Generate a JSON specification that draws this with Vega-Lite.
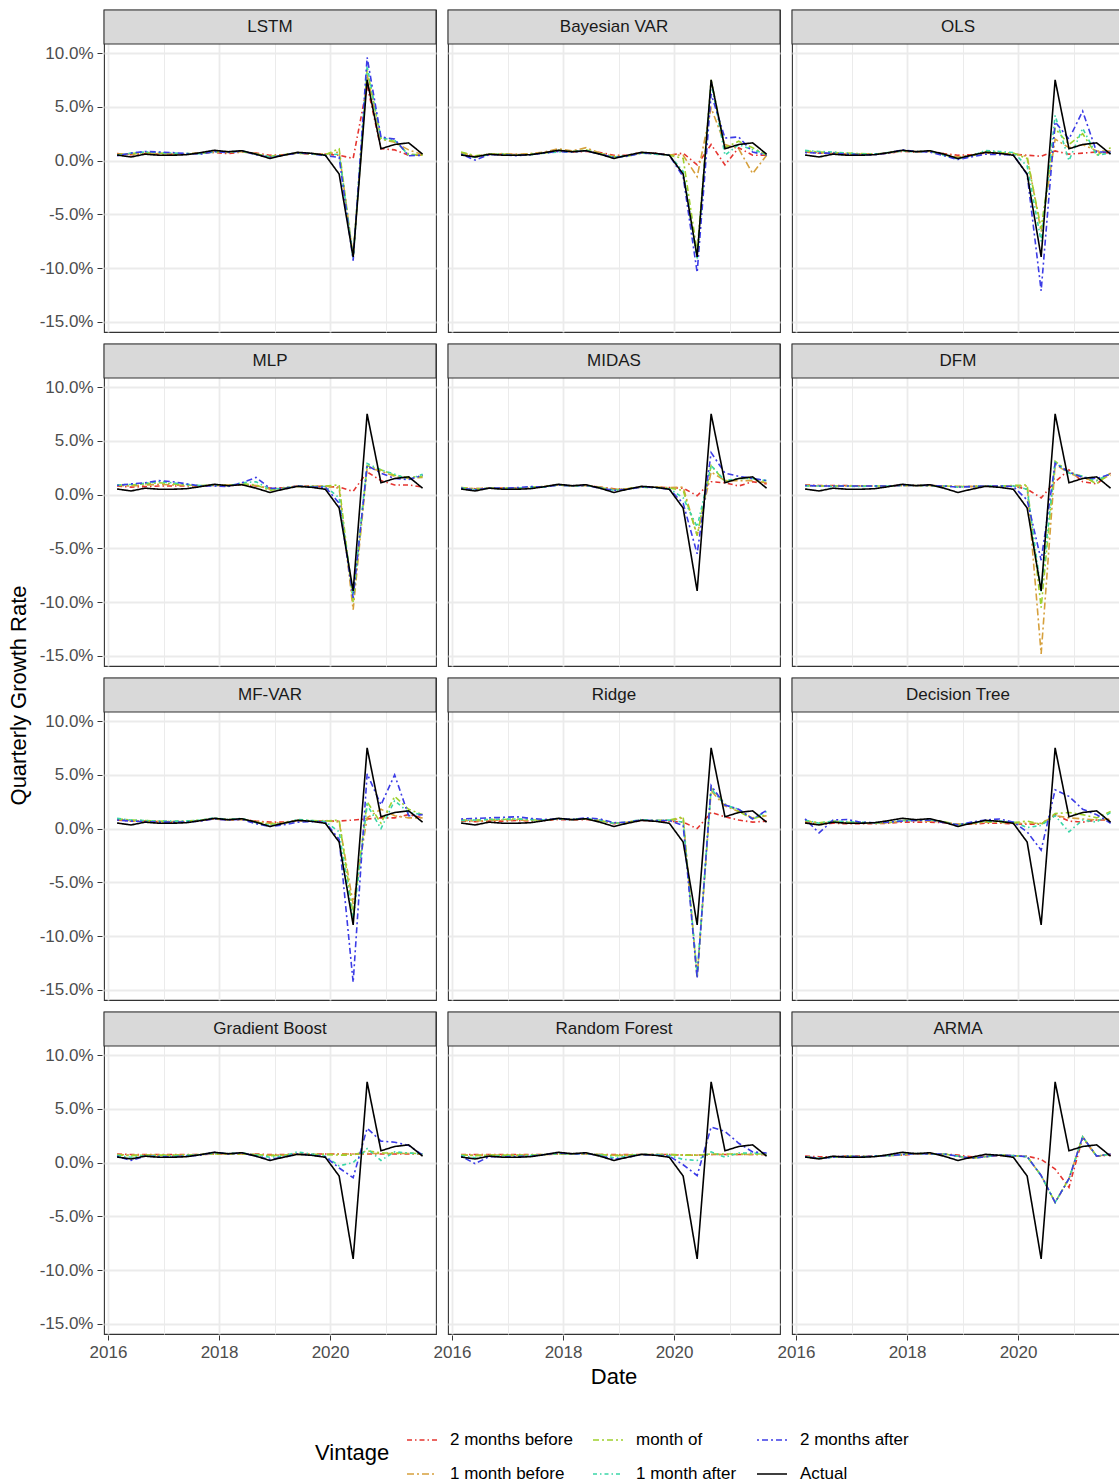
{
"$schema": "https://vega.github.io/schema/vega-lite/v6.json",
"padding": {"left": 8, "top": 8, "right": 0, "bottom": 5},
"background": "white",
"title": {"text": "Quarterly Growth Rate", "orient": "left", "anchor": "middle", "frame": "bounds", "fontSize": 22, "fontWeight": "normal", "color": "#000000", "offset": 8, "font": "Liberation Sans", "dx": 50},
"data": {"values": [
{"m":"LSTM","d":"2016-03-01","b2":0.65,"b1":0.6,"m0":0.55,"a1":0.5,"a2":0.45,"ac":0.52},
{"m":"LSTM","d":"2016-06-01","b2":0.55,"b1":0.6,"m0":0.65,"a1":0.7,"a2":0.7,"ac":0.34},
{"m":"LSTM","d":"2016-09-01","b2":0.65,"b1":0.7,"m0":0.75,"a1":0.8,"a2":0.85,"ac":0.6},
{"m":"LSTM","d":"2016-12-01","b2":0.6,"b1":0.65,"m0":0.7,"a1":0.75,"a2":0.8,"ac":0.5},
{"m":"LSTM","d":"2017-03-01","b2":0.6,"b1":0.6,"m0":0.65,"a1":0.7,"a2":0.75,"ac":0.5},
{"m":"LSTM","d":"2017-06-01","b2":0.6,"b1":0.65,"m0":0.6,"a1":0.65,"a2":0.65,"ac":0.55},
{"m":"LSTM","d":"2017-09-01","b2":0.7,"b1":0.7,"m0":0.65,"a1":0.65,"a2":0.6,"ac":0.74},
{"m":"LSTM","d":"2017-12-01","b2":0.75,"b1":0.8,"m0":0.85,"a1":0.8,"a2":0.85,"ac":0.96},
{"m":"LSTM","d":"2018-03-01","b2":0.65,"b1":0.75,"m0":0.8,"a1":0.8,"a2":0.75,"ac":0.83},
{"m":"LSTM","d":"2018-06-01","b2":0.8,"b1":0.85,"m0":0.85,"a1":0.9,"a2":0.9,"ac":0.92},
{"m":"LSTM","d":"2018-09-01","b2":0.7,"b1":0.65,"m0":0.6,"a1":0.6,"a2":0.55,"ac":0.6},
{"m":"LSTM","d":"2018-12-01","b2":0.5,"b1":0.35,"m0":0.4,"a1":0.35,"a2":0.3,"ac":0.2},
{"m":"LSTM","d":"2019-03-01","b2":0.55,"b1":0.5,"m0":0.55,"a1":0.5,"a2":0.5,"ac":0.5},
{"m":"LSTM","d":"2019-06-01","b2":0.7,"b1":0.7,"m0":0.7,"a1":0.75,"a2":0.7,"ac":0.77},
{"m":"LSTM","d":"2019-09-01","b2":0.6,"b1":0.65,"m0":0.6,"a1":0.65,"a2":0.65,"ac":0.68},
{"m":"LSTM","d":"2019-12-01","b2":0.6,"b1":0.6,"m0":0.55,"a1":0.5,"a2":0.45,"ac":0.5},
{"m":"LSTM","d":"2020-03-01","b2":0.5,"b1":0.8,"m0":1.1,"a1":0.6,"a2":0.3,"ac":-1.25},
{"m":"LSTM","d":"2020-06-01","b2":0.2,"b1":-8.9,"m0":-9.0,"a1":-9.1,"a2":-9.3,"ac":-8.95},
{"m":"LSTM","d":"2020-09-01","b2":7.0,"b1":8.0,"m0":8.5,"a1":8.8,"a2":9.6,"ac":7.5},
{"m":"LSTM","d":"2020-12-01","b2":1.1,"b1":2.0,"m0":2.0,"a1":2.1,"a2":2.2,"ac":1.1},
{"m":"LSTM","d":"2021-03-01","b2":1.0,"b1":1.7,"m0":1.8,"a1":1.9,"a2":2.0,"ac":1.5},
{"m":"LSTM","d":"2021-06-01","b2":0.5,"b1":1.0,"m0":0.6,"a1":0.5,"a2":0.45,"ac":1.65},
{"m":"LSTM","d":"2021-09-01","b2":0.5,"b1":0.55,"m0":0.5,"a1":0.5,"a2":0.5,"ac":0.6},
{"m":"Bayesian VAR","d":"2016-03-01","b2":0.7,"b1":0.75,"m0":0.8,"a1":0.6,"a2":0.6,"ac":0.52},
{"m":"Bayesian VAR","d":"2016-06-01","b2":0.35,"b1":0.4,"m0":0.45,"a1":0.3,"a2":0.05,"ac":0.34},
{"m":"Bayesian VAR","d":"2016-09-01","b2":0.55,"b1":0.6,"m0":0.6,"a1":0.55,"a2":0.55,"ac":0.6},
{"m":"Bayesian VAR","d":"2016-12-01","b2":0.6,"b1":0.65,"m0":0.6,"a1":0.6,"a2":0.55,"ac":0.5},
{"m":"Bayesian VAR","d":"2017-03-01","b2":0.55,"b1":0.6,"m0":0.5,"a1":0.5,"a2":0.45,"ac":0.5},
{"m":"Bayesian VAR","d":"2017-06-01","b2":0.6,"b1":0.65,"m0":0.6,"a1":0.55,"a2":0.55,"ac":0.55},
{"m":"Bayesian VAR","d":"2017-09-01","b2":0.75,"b1":0.8,"m0":0.7,"a1":0.7,"a2":0.7,"ac":0.74},
{"m":"Bayesian VAR","d":"2017-12-01","b2":0.9,"b1":1.1,"m0":0.95,"a1":0.8,"a2":0.85,"ac":0.96},
{"m":"Bayesian VAR","d":"2018-03-01","b2":0.8,"b1":0.9,"m0":0.85,"a1":0.8,"a2":0.8,"ac":0.83},
{"m":"Bayesian VAR","d":"2018-06-01","b2":0.85,"b1":1.2,"m0":1.0,"a1":0.95,"a2":0.9,"ac":0.92},
{"m":"Bayesian VAR","d":"2018-09-01","b2":0.75,"b1":0.7,"m0":0.65,"a1":0.6,"a2":0.6,"ac":0.6},
{"m":"Bayesian VAR","d":"2018-12-01","b2":0.5,"b1":0.4,"m0":0.35,"a1":0.3,"a2":0.3,"ac":0.2},
{"m":"Bayesian VAR","d":"2019-03-01","b2":0.5,"b1":0.45,"m0":0.4,"a1":0.45,"a2":0.4,"ac":0.5},
{"m":"Bayesian VAR","d":"2019-06-01","b2":0.75,"b1":0.7,"m0":0.75,"a1":0.7,"a2":0.7,"ac":0.77},
{"m":"Bayesian VAR","d":"2019-09-01","b2":0.7,"b1":0.65,"m0":0.6,"a1":0.6,"a2":0.65,"ac":0.68},
{"m":"Bayesian VAR","d":"2019-12-01","b2":0.5,"b1":0.55,"m0":0.5,"a1":0.5,"a2":0.5,"ac":0.5},
{"m":"Bayesian VAR","d":"2020-03-01","b2":0.7,"b1":0.5,"m0":0.2,"a1":-1.0,"a2":-1.5,"ac":-1.25},
{"m":"Bayesian VAR","d":"2020-06-01","b2":-0.4,"b1":-1.5,"m0":-8.5,"a1":-9.2,"a2":-10.4,"ac":-8.95},
{"m":"Bayesian VAR","d":"2020-09-01","b2":1.5,"b1":4.9,"m0":7.5,"a1":7.3,"a2":6.2,"ac":7.5},
{"m":"Bayesian VAR","d":"2020-12-01","b2":-0.4,"b1":1.5,"m0":1.2,"a1":0.5,"a2":2.1,"ac":1.1},
{"m":"Bayesian VAR","d":"2021-03-01","b2":1.2,"b1":1.1,"m0":1.8,"a1":1.5,"a2":2.2,"ac":1.5},
{"m":"Bayesian VAR","d":"2021-06-01","b2":0.5,"b1":-1.2,"m0":1.2,"a1":1.0,"a2":0.8,"ac":1.65},
{"m":"Bayesian VAR","d":"2021-09-01","b2":0.5,"b1":0.5,"m0":0.5,"a1":0.6,"a2":0.5,"ac":0.6},
{"m":"OLS","d":"2016-03-01","b2":0.8,"b1":0.85,"m0":0.9,"a1":0.95,"a2":0.75,"ac":0.52},
{"m":"OLS","d":"2016-06-01","b2":0.7,"b1":0.75,"m0":0.8,"a1":0.85,"a2":0.7,"ac":0.34},
{"m":"OLS","d":"2016-09-01","b2":0.65,"b1":0.7,"m0":0.75,"a1":0.8,"a2":0.7,"ac":0.6},
{"m":"OLS","d":"2016-12-01","b2":0.6,"b1":0.65,"m0":0.7,"a1":0.7,"a2":0.6,"ac":0.5},
{"m":"OLS","d":"2017-03-01","b2":0.6,"b1":0.6,"m0":0.65,"a1":0.6,"a2":0.55,"ac":0.5},
{"m":"OLS","d":"2017-06-01","b2":0.6,"b1":0.6,"m0":0.6,"a1":0.6,"a2":0.55,"ac":0.55},
{"m":"OLS","d":"2017-09-01","b2":0.7,"b1":0.7,"m0":0.75,"a1":0.75,"a2":0.7,"ac":0.74},
{"m":"OLS","d":"2017-12-01","b2":0.85,"b1":0.9,"m0":0.95,"a1":0.9,"a2":1.0,"ac":0.96},
{"m":"OLS","d":"2018-03-01","b2":0.8,"b1":0.85,"m0":0.85,"a1":0.8,"a2":0.85,"ac":0.83},
{"m":"OLS","d":"2018-06-01","b2":0.85,"b1":0.85,"m0":0.85,"a1":0.9,"a2":0.8,"ac":0.92},
{"m":"OLS","d":"2018-09-01","b2":0.65,"b1":0.6,"m0":0.55,"a1":0.5,"a2":0.45,"ac":0.6},
{"m":"OLS","d":"2018-12-01","b2":0.5,"b1":0.35,"m0":0.2,"a1":0.15,"a2":0.1,"ac":0.2},
{"m":"OLS","d":"2019-03-01","b2":0.55,"b1":0.5,"m0":0.45,"a1":0.4,"a2":0.35,"ac":0.5},
{"m":"OLS","d":"2019-06-01","b2":0.7,"b1":0.75,"m0":0.85,"a1":0.95,"a2":0.6,"ac":0.77},
{"m":"OLS","d":"2019-09-01","b2":0.65,"b1":0.7,"m0":0.75,"a1":0.85,"a2":0.55,"ac":0.68},
{"m":"OLS","d":"2019-12-01","b2":0.6,"b1":0.65,"m0":0.7,"a1":0.75,"a2":0.55,"ac":0.5},
{"m":"OLS","d":"2020-03-01","b2":0.5,"b1":0.4,"m0":0.2,"a1":-0.5,"a2":-1.3,"ac":-1.25},
{"m":"OLS","d":"2020-06-01","b2":0.4,"b1":-6.6,"m0":-6.3,"a1":-7.5,"a2":-12.1,"ac":-8.95},
{"m":"OLS","d":"2020-09-01","b2":0.9,"b1":2.0,"m0":3.0,"a1":4.2,"a2":3.6,"ac":7.5},
{"m":"OLS","d":"2020-12-01","b2":0.6,"b1":1.2,"m0":1.5,"a1":0.0,"a2":2.0,"ac":1.1},
{"m":"OLS","d":"2021-03-01","b2":0.7,"b1":1.5,"m0":2.5,"a1":3.0,"a2":4.6,"ac":1.5},
{"m":"OLS","d":"2021-06-01","b2":0.8,"b1":0.9,"m0":0.5,"a1":0.5,"a2":0.8,"ac":1.65},
{"m":"OLS","d":"2021-09-01","b2":0.7,"b1":0.9,"m0":1.2,"a1":0.7,"a2":0.8,"ac":0.6},
{"m":"MLP","d":"2016-03-01","b2":0.8,"b1":0.85,"m0":0.9,"a1":0.9,"a2":0.85,"ac":0.52},
{"m":"MLP","d":"2016-06-01","b2":0.7,"b1":0.8,"m0":0.9,"a1":0.95,"a2":1.0,"ac":0.34},
{"m":"MLP","d":"2016-09-01","b2":0.75,"b1":0.9,"m0":1.0,"a1":1.05,"a2":1.1,"ac":0.6},
{"m":"MLP","d":"2016-12-01","b2":0.8,"b1":0.95,"m0":1.1,"a1":1.2,"a2":1.3,"ac":0.5},
{"m":"MLP","d":"2017-03-01","b2":0.8,"b1":0.9,"m0":1.0,"a1":1.1,"a2":1.2,"ac":0.5},
{"m":"MLP","d":"2017-06-01","b2":0.8,"b1":0.85,"m0":0.9,"a1":0.95,"a2":1.0,"ac":0.55},
{"m":"MLP","d":"2017-09-01","b2":0.8,"b1":0.8,"m0":0.85,"a1":0.85,"a2":0.8,"ac":0.74},
{"m":"MLP","d":"2017-12-01","b2":0.85,"b1":0.9,"m0":0.9,"a1":0.85,"a2":0.8,"ac":0.96},
{"m":"MLP","d":"2018-03-01","b2":0.85,"b1":0.9,"m0":0.85,"a1":0.8,"a2":0.75,"ac":0.83},
{"m":"MLP","d":"2018-06-01","b2":0.9,"b1":0.95,"m0":1.0,"a1":1.1,"a2":1.1,"ac":0.92},
{"m":"MLP","d":"2018-09-01","b2":0.8,"b1":0.85,"m0":0.9,"a1":1.2,"a2":1.6,"ac":0.6},
{"m":"MLP","d":"2018-12-01","b2":0.6,"b1":0.5,"m0":0.4,"a1":0.5,"a2":0.6,"ac":0.2},
{"m":"MLP","d":"2019-03-01","b2":0.65,"b1":0.6,"m0":0.6,"a1":0.6,"a2":0.55,"ac":0.5},
{"m":"MLP","d":"2019-06-01","b2":0.8,"b1":0.75,"m0":0.75,"a1":0.8,"a2":0.8,"ac":0.77},
{"m":"MLP","d":"2019-09-01","b2":0.8,"b1":0.75,"m0":0.75,"a1":0.75,"a2":0.7,"ac":0.68},
{"m":"MLP","d":"2019-12-01","b2":0.75,"b1":0.8,"m0":0.8,"a1":0.75,"a2":0.7,"ac":0.5},
{"m":"MLP","d":"2020-03-01","b2":0.7,"b1":0.6,"m0":0.9,"a1":-0.3,"a2":-0.8,"ac":-1.25},
{"m":"MLP","d":"2020-06-01","b2":0.3,"b1":-10.7,"m0":-10.0,"a1":-9.4,"a2":-9.6,"ac":-8.95},
{"m":"MLP","d":"2020-09-01","b2":2.1,"b1":2.5,"m0":2.7,"a1":2.9,"a2":2.7,"ac":7.5},
{"m":"MLP","d":"2020-12-01","b2":1.3,"b1":2.2,"m0":2.3,"a1":2.3,"a2":2.0,"ac":1.1},
{"m":"MLP","d":"2021-03-01","b2":0.9,"b1":1.7,"m0":1.8,"a1":1.9,"a2":1.5,"ac":1.5},
{"m":"MLP","d":"2021-06-01","b2":0.9,"b1":1.5,"m0":1.6,"a1":1.4,"a2":1.4,"ac":1.65},
{"m":"MLP","d":"2021-09-01","b2":0.7,"b1":1.6,"m0":1.7,"a1":1.9,"a2":1.8,"ac":0.6},
{"m":"MIDAS","d":"2016-03-01","b2":0.6,"b1":0.65,"m0":0.65,"a1":0.6,"a2":0.6,"ac":0.52},
{"m":"MIDAS","d":"2016-06-01","b2":0.55,"b1":0.55,"m0":0.5,"a1":0.45,"a2":0.45,"ac":0.34},
{"m":"MIDAS","d":"2016-09-01","b2":0.6,"b1":0.6,"m0":0.6,"a1":0.6,"a2":0.6,"ac":0.6},
{"m":"MIDAS","d":"2016-12-01","b2":0.6,"b1":0.6,"m0":0.6,"a1":0.55,"a2":0.6,"ac":0.5},
{"m":"MIDAS","d":"2017-03-01","b2":0.6,"b1":0.6,"m0":0.6,"a1":0.6,"a2":0.65,"ac":0.5},
{"m":"MIDAS","d":"2017-06-01","b2":0.65,"b1":0.65,"m0":0.7,"a1":0.7,"a2":0.75,"ac":0.55},
{"m":"MIDAS","d":"2017-09-01","b2":0.75,"b1":0.75,"m0":0.75,"a1":0.7,"a2":0.7,"ac":0.74},
{"m":"MIDAS","d":"2017-12-01","b2":0.9,"b1":0.9,"m0":0.9,"a1":0.9,"a2":0.9,"ac":0.96},
{"m":"MIDAS","d":"2018-03-01","b2":0.8,"b1":0.8,"m0":0.8,"a1":0.8,"a2":0.8,"ac":0.83},
{"m":"MIDAS","d":"2018-06-01","b2":0.85,"b1":0.85,"m0":0.85,"a1":0.85,"a2":0.85,"ac":0.92},
{"m":"MIDAS","d":"2018-09-01","b2":0.7,"b1":0.7,"m0":0.65,"a1":0.65,"a2":0.6,"ac":0.6},
{"m":"MIDAS","d":"2018-12-01","b2":0.55,"b1":0.5,"m0":0.45,"a1":0.4,"a2":0.4,"ac":0.2},
{"m":"MIDAS","d":"2019-03-01","b2":0.55,"b1":0.55,"m0":0.55,"a1":0.5,"a2":0.5,"ac":0.5},
{"m":"MIDAS","d":"2019-06-01","b2":0.7,"b1":0.7,"m0":0.7,"a1":0.7,"a2":0.7,"ac":0.77},
{"m":"MIDAS","d":"2019-09-01","b2":0.7,"b1":0.7,"m0":0.65,"a1":0.65,"a2":0.65,"ac":0.68},
{"m":"MIDAS","d":"2019-12-01","b2":0.65,"b1":0.65,"m0":0.6,"a1":0.55,"a2":0.5,"ac":0.5},
{"m":"MIDAS","d":"2020-03-01","b2":0.6,"b1":0.7,"m0":0.4,"a1":-0.3,"a2":-0.8,"ac":-1.25},
{"m":"MIDAS","d":"2020-06-01","b2":-0.1,"b1":-3.8,"m0":-3.8,"a1":-3.0,"a2":-5.5,"ac":-8.95},
{"m":"MIDAS","d":"2020-09-01","b2":1.2,"b1":2.1,"m0":2.7,"a1":2.7,"a2":3.9,"ac":7.5},
{"m":"MIDAS","d":"2020-12-01","b2":1.1,"b1":1.3,"m0":1.2,"a1":1.3,"a2":2.0,"ac":1.1},
{"m":"MIDAS","d":"2021-03-01","b2":0.8,"b1":1.3,"m0":1.5,"a1":1.5,"a2":1.7,"ac":1.5},
{"m":"MIDAS","d":"2021-06-01","b2":1.2,"b1":1.3,"m0":1.5,"a1":1.5,"a2":1.5,"ac":1.65},
{"m":"MIDAS","d":"2021-09-01","b2":1.0,"b1":1.1,"m0":1.2,"a1":1.3,"a2":1.3,"ac":0.6},
{"m":"DFM","d":"2016-03-01","b2":0.9,"b1":0.85,"m0":0.85,"a1":0.8,"a2":0.85,"ac":0.52},
{"m":"DFM","d":"2016-06-01","b2":0.85,"b1":0.8,"m0":0.8,"a1":0.8,"a2":0.8,"ac":0.34},
{"m":"DFM","d":"2016-09-01","b2":0.85,"b1":0.8,"m0":0.8,"a1":0.75,"a2":0.8,"ac":0.6},
{"m":"DFM","d":"2016-12-01","b2":0.85,"b1":0.8,"m0":0.8,"a1":0.8,"a2":0.8,"ac":0.5},
{"m":"DFM","d":"2017-03-01","b2":0.8,"b1":0.8,"m0":0.8,"a1":0.75,"a2":0.8,"ac":0.5},
{"m":"DFM","d":"2017-06-01","b2":0.8,"b1":0.8,"m0":0.8,"a1":0.8,"a2":0.8,"ac":0.55},
{"m":"DFM","d":"2017-09-01","b2":0.8,"b1":0.8,"m0":0.8,"a1":0.8,"a2":0.8,"ac":0.74},
{"m":"DFM","d":"2017-12-01","b2":0.85,"b1":0.85,"m0":0.85,"a1":0.85,"a2":0.85,"ac":0.96},
{"m":"DFM","d":"2018-03-01","b2":0.85,"b1":0.85,"m0":0.85,"a1":0.85,"a2":0.85,"ac":0.83},
{"m":"DFM","d":"2018-06-01","b2":0.85,"b1":0.85,"m0":0.8,"a1":0.85,"a2":0.85,"ac":0.92},
{"m":"DFM","d":"2018-09-01","b2":0.8,"b1":0.8,"m0":0.8,"a1":0.8,"a2":0.8,"ac":0.6},
{"m":"DFM","d":"2018-12-01","b2":0.75,"b1":0.75,"m0":0.75,"a1":0.7,"a2":0.7,"ac":0.2},
{"m":"DFM","d":"2019-03-01","b2":0.75,"b1":0.75,"m0":0.75,"a1":0.75,"a2":0.75,"ac":0.5},
{"m":"DFM","d":"2019-06-01","b2":0.8,"b1":0.8,"m0":0.8,"a1":0.8,"a2":0.8,"ac":0.77},
{"m":"DFM","d":"2019-09-01","b2":0.8,"b1":0.8,"m0":0.8,"a1":0.8,"a2":0.8,"ac":0.68},
{"m":"DFM","d":"2019-12-01","b2":0.8,"b1":0.8,"m0":0.85,"a1":0.8,"a2":0.75,"ac":0.5},
{"m":"DFM","d":"2020-03-01","b2":0.5,"b1":0.8,"m0":0.9,"a1":0.5,"a2":-0.5,"ac":-1.25},
{"m":"DFM","d":"2020-06-01","b2":-0.3,"b1":-14.8,"m0":-10.5,"a1":-9.0,"a2":-6.1,"ac":-8.95},
{"m":"DFM","d":"2020-09-01","b2":1.2,"b1":2.8,"m0":3.1,"a1":3.0,"a2":2.9,"ac":7.5},
{"m":"DFM","d":"2020-12-01","b2":2.3,"b1":2.0,"m0":2.1,"a1":2.0,"a2":2.1,"ac":1.1},
{"m":"DFM","d":"2021-03-01","b2":1.2,"b1":1.5,"m0":1.7,"a1":1.7,"a2":1.6,"ac":1.5},
{"m":"DFM","d":"2021-06-01","b2":1.0,"b1":1.3,"m0":1.0,"a1":1.3,"a2":1.5,"ac":1.65},
{"m":"DFM","d":"2021-09-01","b2":2.0,"b1":1.8,"m0":2.0,"a1":2.0,"a2":1.9,"ac":0.6},
{"m":"MF-VAR","d":"2016-03-01","b2":0.8,"b1":0.85,"m0":0.9,"a1":0.95,"a2":0.8,"ac":0.52},
{"m":"MF-VAR","d":"2016-06-01","b2":0.7,"b1":0.75,"m0":0.8,"a1":0.8,"a2":0.7,"ac":0.34},
{"m":"MF-VAR","d":"2016-09-01","b2":0.7,"b1":0.7,"m0":0.75,"a1":0.75,"a2":0.65,"ac":0.6},
{"m":"MF-VAR","d":"2016-12-01","b2":0.65,"b1":0.65,"m0":0.7,"a1":0.7,"a2":0.6,"ac":0.5},
{"m":"MF-VAR","d":"2017-03-01","b2":0.6,"b1":0.65,"m0":0.65,"a1":0.7,"a2":0.6,"ac":0.5},
{"m":"MF-VAR","d":"2017-06-01","b2":0.65,"b1":0.65,"m0":0.7,"a1":0.7,"a2":0.6,"ac":0.55},
{"m":"MF-VAR","d":"2017-09-01","b2":0.75,"b1":0.75,"m0":0.8,"a1":0.8,"a2":0.7,"ac":0.74},
{"m":"MF-VAR","d":"2017-12-01","b2":0.9,"b1":0.9,"m0":0.95,"a1":1.0,"a2":0.9,"ac":0.96},
{"m":"MF-VAR","d":"2018-03-01","b2":0.8,"b1":0.8,"m0":0.85,"a1":0.85,"a2":0.8,"ac":0.83},
{"m":"MF-VAR","d":"2018-06-01","b2":0.85,"b1":0.85,"m0":0.9,"a1":0.95,"a2":0.85,"ac":0.92},
{"m":"MF-VAR","d":"2018-09-01","b2":0.7,"b1":0.65,"m0":0.6,"a1":0.55,"a2":0.45,"ac":0.6},
{"m":"MF-VAR","d":"2018-12-01","b2":0.6,"b1":0.5,"m0":0.4,"a1":0.3,"a2":0.2,"ac":0.2},
{"m":"MF-VAR","d":"2019-03-01","b2":0.6,"b1":0.55,"m0":0.5,"a1":0.45,"a2":0.35,"ac":0.5},
{"m":"MF-VAR","d":"2019-06-01","b2":0.75,"b1":0.75,"m0":0.8,"a1":0.85,"a2":0.6,"ac":0.77},
{"m":"MF-VAR","d":"2019-09-01","b2":0.7,"b1":0.7,"m0":0.75,"a1":0.75,"a2":0.65,"ac":0.68},
{"m":"MF-VAR","d":"2019-12-01","b2":0.7,"b1":0.75,"m0":0.7,"a1":0.65,"a2":0.6,"ac":0.5},
{"m":"MF-VAR","d":"2020-03-01","b2":0.7,"b1":0.6,"m0":0.8,"a1":-0.3,"a2":-1.0,"ac":-1.25},
{"m":"MF-VAR","d":"2020-06-01","b2":0.8,"b1":-7.0,"m0":-8.0,"a1":-8.5,"a2":-14.3,"ac":-8.95},
{"m":"MF-VAR","d":"2020-09-01","b2":0.9,"b1":1.0,"m0":2.5,"a1":2.2,"a2":5.1,"ac":7.5},
{"m":"MF-VAR","d":"2020-12-01","b2":1.0,"b1":1.8,"m0":0.5,"a1":0.0,"a2":2.2,"ac":1.1},
{"m":"MF-VAR","d":"2021-03-01","b2":1.0,"b1":1.2,"m0":3.0,"a1":2.6,"a2":5.0,"ac":1.5},
{"m":"MF-VAR","d":"2021-06-01","b2":1.3,"b1":1.0,"m0":1.8,"a1":1.5,"a2":1.2,"ac":1.65},
{"m":"MF-VAR","d":"2021-09-01","b2":1.0,"b1":1.0,"m0":1.3,"a1":1.3,"a2":1.3,"ac":0.6},
{"m":"Ridge","d":"2016-03-01","b2":0.7,"b1":0.75,"m0":0.8,"a1":0.75,"a2":0.9,"ac":0.52},
{"m":"Ridge","d":"2016-06-01","b2":0.65,"b1":0.7,"m0":0.8,"a1":0.8,"a2":0.95,"ac":0.34},
{"m":"Ridge","d":"2016-09-01","b2":0.7,"b1":0.75,"m0":0.85,"a1":0.85,"a2":1.0,"ac":0.6},
{"m":"Ridge","d":"2016-12-01","b2":0.7,"b1":0.8,"m0":0.85,"a1":0.9,"a2":1.05,"ac":0.5},
{"m":"Ridge","d":"2017-03-01","b2":0.75,"b1":0.8,"m0":0.9,"a1":0.9,"a2":1.1,"ac":0.5},
{"m":"Ridge","d":"2017-06-01","b2":0.7,"b1":0.75,"m0":0.8,"a1":0.85,"a2":0.95,"ac":0.55},
{"m":"Ridge","d":"2017-09-01","b2":0.75,"b1":0.8,"m0":0.8,"a1":0.8,"a2":0.85,"ac":0.74},
{"m":"Ridge","d":"2017-12-01","b2":0.85,"b1":0.9,"m0":0.9,"a1":0.9,"a2":0.9,"ac":0.96},
{"m":"Ridge","d":"2018-03-01","b2":0.8,"b1":0.85,"m0":0.85,"a1":0.85,"a2":0.85,"ac":0.83},
{"m":"Ridge","d":"2018-06-01","b2":0.85,"b1":0.9,"m0":0.9,"a1":0.95,"a2":1.0,"ac":0.92},
{"m":"Ridge","d":"2018-09-01","b2":0.75,"b1":0.75,"m0":0.75,"a1":0.8,"a2":0.9,"ac":0.6},
{"m":"Ridge","d":"2018-12-01","b2":0.45,"b1":0.5,"m0":0.5,"a1":0.5,"a2":0.55,"ac":0.2},
{"m":"Ridge","d":"2019-03-01","b2":0.55,"b1":0.6,"m0":0.6,"a1":0.6,"a2":0.6,"ac":0.5},
{"m":"Ridge","d":"2019-06-01","b2":0.75,"b1":0.8,"m0":0.8,"a1":0.85,"a2":0.8,"ac":0.77},
{"m":"Ridge","d":"2019-09-01","b2":0.7,"b1":0.75,"m0":0.75,"a1":0.75,"a2":0.75,"ac":0.68},
{"m":"Ridge","d":"2019-12-01","b2":0.7,"b1":0.75,"m0":0.8,"a1":0.8,"a2":0.75,"ac":0.5},
{"m":"Ridge","d":"2020-03-01","b2":0.6,"b1":1.0,"m0":1.1,"a1":0.6,"a2":0.3,"ac":-1.25},
{"m":"Ridge","d":"2020-06-01","b2":0.0,"b1":-13.8,"m0":-13.9,"a1":-13.5,"a2":-13.9,"ac":-8.95},
{"m":"Ridge","d":"2020-09-01","b2":1.5,"b1":3.5,"m0":3.8,"a1":3.7,"a2":4.0,"ac":7.5},
{"m":"Ridge","d":"2020-12-01","b2":1.1,"b1":2.1,"m0":2.3,"a1":2.2,"a2":2.2,"ac":1.1},
{"m":"Ridge","d":"2021-03-01","b2":0.8,"b1":1.6,"m0":1.6,"a1":1.8,"a2":1.8,"ac":1.5},
{"m":"Ridge","d":"2021-06-01","b2":0.6,"b1":1.0,"m0":0.9,"a1":0.9,"a2":0.9,"ac":1.65},
{"m":"Ridge","d":"2021-09-01","b2":0.7,"b1":1.2,"m0":1.3,"a1":1.6,"a2":1.7,"ac":0.6},
{"m":"Decision Tree","d":"2016-03-01","b2":0.6,"b1":0.7,"m0":0.75,"a1":0.8,"a2":0.9,"ac":0.52},
{"m":"Decision Tree","d":"2016-06-01","b2":0.4,"b1":0.5,"m0":0.55,"a1":0.5,"a2":-0.4,"ac":0.34},
{"m":"Decision Tree","d":"2016-09-01","b2":0.5,"b1":0.6,"m0":0.7,"a1":0.7,"a2":0.8,"ac":0.6},
{"m":"Decision Tree","d":"2016-12-01","b2":0.45,"b1":0.55,"m0":0.6,"a1":0.65,"a2":0.85,"ac":0.5},
{"m":"Decision Tree","d":"2017-03-01","b2":0.45,"b1":0.5,"m0":0.55,"a1":0.6,"a2":0.6,"ac":0.5},
{"m":"Decision Tree","d":"2017-06-01","b2":0.45,"b1":0.5,"m0":0.5,"a1":0.55,"a2":0.55,"ac":0.55},
{"m":"Decision Tree","d":"2017-09-01","b2":0.5,"b1":0.55,"m0":0.55,"a1":0.6,"a2":0.6,"ac":0.74},
{"m":"Decision Tree","d":"2017-12-01","b2":0.6,"b1":0.7,"m0":0.75,"a1":0.75,"a2":0.7,"ac":0.96},
{"m":"Decision Tree","d":"2018-03-01","b2":0.6,"b1":0.75,"m0":0.8,"a1":0.8,"a2":0.75,"ac":0.83},
{"m":"Decision Tree","d":"2018-06-01","b2":0.6,"b1":0.7,"m0":0.8,"a1":0.85,"a2":0.8,"ac":0.92},
{"m":"Decision Tree","d":"2018-09-01","b2":0.55,"b1":0.6,"m0":0.65,"a1":0.6,"a2":0.55,"ac":0.6},
{"m":"Decision Tree","d":"2018-12-01","b2":0.4,"b1":0.4,"m0":0.35,"a1":0.35,"a2":0.35,"ac":0.2},
{"m":"Decision Tree","d":"2019-03-01","b2":0.4,"b1":0.45,"m0":0.5,"a1":0.55,"a2":0.6,"ac":0.5},
{"m":"Decision Tree","d":"2019-06-01","b2":0.5,"b1":0.6,"m0":0.65,"a1":0.7,"a2":0.8,"ac":0.77},
{"m":"Decision Tree","d":"2019-09-01","b2":0.5,"b1":0.6,"m0":0.6,"a1":0.7,"a2":0.9,"ac":0.68},
{"m":"Decision Tree","d":"2019-12-01","b2":0.45,"b1":0.5,"m0":0.55,"a1":0.6,"a2":0.6,"ac":0.5},
{"m":"Decision Tree","d":"2020-03-01","b2":0.4,"b1":0.5,"m0":0.7,"a1":0.1,"a2":-0.3,"ac":-1.25},
{"m":"Decision Tree","d":"2020-06-01","b2":0.4,"b1":0.5,"m0":0.4,"a1":0.3,"a2":-2.0,"ac":-8.95},
{"m":"Decision Tree","d":"2020-09-01","b2":1.3,"b1":1.2,"m0":1.4,"a1":1.2,"a2":3.6,"ac":7.5},
{"m":"Decision Tree","d":"2020-12-01","b2":0.7,"b1":1.0,"m0":1.5,"a1":-0.3,"a2":3.0,"ac":1.1},
{"m":"Decision Tree","d":"2021-03-01","b2":0.6,"b1":0.9,"m0":1.3,"a1":0.8,"a2":1.8,"ac":1.5},
{"m":"Decision Tree","d":"2021-06-01","b2":0.8,"b1":0.8,"m0":1.0,"a1":0.6,"a2":1.3,"ac":1.65},
{"m":"Decision Tree","d":"2021-09-01","b2":0.8,"b1":0.9,"m0":1.6,"a1":1.5,"a2":0.5,"ac":0.6},
{"m":"Gradient Boost","d":"2016-03-01","b2":0.8,"b1":0.75,"m0":0.7,"a1":0.65,"a2":0.6,"ac":0.52},
{"m":"Gradient Boost","d":"2016-06-01","b2":0.75,"b1":0.7,"m0":0.65,"a1":0.5,"a2":0.2,"ac":0.34},
{"m":"Gradient Boost","d":"2016-09-01","b2":0.75,"b1":0.7,"m0":0.7,"a1":0.65,"a2":0.6,"ac":0.6},
{"m":"Gradient Boost","d":"2016-12-01","b2":0.75,"b1":0.7,"m0":0.7,"a1":0.6,"a2":0.55,"ac":0.5},
{"m":"Gradient Boost","d":"2017-03-01","b2":0.75,"b1":0.7,"m0":0.7,"a1":0.6,"a2":0.55,"ac":0.5},
{"m":"Gradient Boost","d":"2017-06-01","b2":0.75,"b1":0.7,"m0":0.7,"a1":0.65,"a2":0.6,"ac":0.55},
{"m":"Gradient Boost","d":"2017-09-01","b2":0.75,"b1":0.75,"m0":0.75,"a1":0.75,"a2":0.7,"ac":0.74},
{"m":"Gradient Boost","d":"2017-12-01","b2":0.8,"b1":0.8,"m0":0.8,"a1":0.9,"a2":0.95,"ac":0.96},
{"m":"Gradient Boost","d":"2018-03-01","b2":0.8,"b1":0.8,"m0":0.8,"a1":0.85,"a2":0.8,"ac":0.83},
{"m":"Gradient Boost","d":"2018-06-01","b2":0.8,"b1":0.8,"m0":0.8,"a1":0.9,"a2":0.9,"ac":0.92},
{"m":"Gradient Boost","d":"2018-09-01","b2":0.8,"b1":0.75,"m0":0.75,"a1":0.7,"a2":0.6,"ac":0.6},
{"m":"Gradient Boost","d":"2018-12-01","b2":0.75,"b1":0.7,"m0":0.65,"a1":0.5,"a2":0.3,"ac":0.2},
{"m":"Gradient Boost","d":"2019-03-01","b2":0.75,"b1":0.7,"m0":0.7,"a1":0.6,"a2":0.5,"ac":0.5},
{"m":"Gradient Boost","d":"2019-06-01","b2":0.8,"b1":0.75,"m0":0.8,"a1":1.0,"a2":0.8,"ac":0.77},
{"m":"Gradient Boost","d":"2019-09-01","b2":0.8,"b1":0.75,"m0":0.75,"a1":0.8,"a2":0.7,"ac":0.68},
{"m":"Gradient Boost","d":"2019-12-01","b2":0.8,"b1":0.8,"m0":0.75,"a1":0.6,"a2":0.55,"ac":0.5},
{"m":"Gradient Boost","d":"2020-03-01","b2":0.8,"b1":0.8,"m0":0.7,"a1":-0.3,"a2":-0.5,"ac":-1.25},
{"m":"Gradient Boost","d":"2020-06-01","b2":0.8,"b1":0.8,"m0":0.7,"a1":0.0,"a2":-1.4,"ac":-8.95},
{"m":"Gradient Boost","d":"2020-09-01","b2":0.8,"b1":0.85,"m0":1.1,"a1":1.3,"a2":3.2,"ac":7.5},
{"m":"Gradient Boost","d":"2020-12-01","b2":0.8,"b1":0.85,"m0":0.9,"a1":0.2,"a2":2.0,"ac":1.1},
{"m":"Gradient Boost","d":"2021-03-01","b2":0.8,"b1":0.85,"m0":0.9,"a1":1.0,"a2":1.9,"ac":1.5},
{"m":"Gradient Boost","d":"2021-06-01","b2":0.8,"b1":0.85,"m0":0.9,"a1":0.9,"a2":1.6,"ac":1.65},
{"m":"Gradient Boost","d":"2021-09-01","b2":0.8,"b1":0.8,"m0":0.8,"a1":0.8,"a2":0.7,"ac":0.6},
{"m":"Random Forest","d":"2016-03-01","b2":0.75,"b1":0.7,"m0":0.7,"a1":0.65,"a2":0.6,"ac":0.52},
{"m":"Random Forest","d":"2016-06-01","b2":0.75,"b1":0.7,"m0":0.65,"a1":0.45,"a2":-0.1,"ac":0.34},
{"m":"Random Forest","d":"2016-09-01","b2":0.75,"b1":0.7,"m0":0.7,"a1":0.6,"a2":0.55,"ac":0.6},
{"m":"Random Forest","d":"2016-12-01","b2":0.75,"b1":0.7,"m0":0.7,"a1":0.6,"a2":0.55,"ac":0.5},
{"m":"Random Forest","d":"2017-03-01","b2":0.75,"b1":0.7,"m0":0.7,"a1":0.6,"a2":0.55,"ac":0.5},
{"m":"Random Forest","d":"2017-06-01","b2":0.75,"b1":0.7,"m0":0.7,"a1":0.65,"a2":0.6,"ac":0.55},
{"m":"Random Forest","d":"2017-09-01","b2":0.75,"b1":0.75,"m0":0.75,"a1":0.75,"a2":0.75,"ac":0.74},
{"m":"Random Forest","d":"2017-12-01","b2":0.8,"b1":0.8,"m0":0.8,"a1":0.85,"a2":0.9,"ac":0.96},
{"m":"Random Forest","d":"2018-03-01","b2":0.8,"b1":0.8,"m0":0.8,"a1":0.8,"a2":0.8,"ac":0.83},
{"m":"Random Forest","d":"2018-06-01","b2":0.8,"b1":0.8,"m0":0.8,"a1":0.85,"a2":0.85,"ac":0.92},
{"m":"Random Forest","d":"2018-09-01","b2":0.75,"b1":0.75,"m0":0.75,"a1":0.7,"a2":0.65,"ac":0.6},
{"m":"Random Forest","d":"2018-12-01","b2":0.75,"b1":0.7,"m0":0.65,"a1":0.45,"a2":0.3,"ac":0.2},
{"m":"Random Forest","d":"2019-03-01","b2":0.75,"b1":0.7,"m0":0.7,"a1":0.6,"a2":0.5,"ac":0.5},
{"m":"Random Forest","d":"2019-06-01","b2":0.75,"b1":0.75,"m0":0.75,"a1":0.75,"a2":0.75,"ac":0.77},
{"m":"Random Forest","d":"2019-09-01","b2":0.75,"b1":0.75,"m0":0.75,"a1":0.75,"a2":0.7,"ac":0.68},
{"m":"Random Forest","d":"2019-12-01","b2":0.75,"b1":0.75,"m0":0.75,"a1":0.65,"a2":0.6,"ac":0.5},
{"m":"Random Forest","d":"2020-03-01","b2":0.7,"b1":0.7,"m0":0.7,"a1":0.3,"a2":-0.2,"ac":-1.25},
{"m":"Random Forest","d":"2020-06-01","b2":0.7,"b1":0.7,"m0":0.7,"a1":0.2,"a2":-1.2,"ac":-8.95},
{"m":"Random Forest","d":"2020-09-01","b2":0.75,"b1":0.75,"m0":0.8,"a1":1.0,"a2":3.3,"ac":7.5},
{"m":"Random Forest","d":"2020-12-01","b2":0.75,"b1":0.75,"m0":0.8,"a1":0.5,"a2":2.9,"ac":1.1},
{"m":"Random Forest","d":"2021-03-01","b2":0.75,"b1":0.75,"m0":0.8,"a1":0.9,"a2":1.8,"ac":1.5},
{"m":"Random Forest","d":"2021-06-01","b2":0.75,"b1":0.75,"m0":0.8,"a1":0.9,"a2":1.0,"ac":1.65},
{"m":"Random Forest","d":"2021-09-01","b2":0.75,"b1":0.75,"m0":0.8,"a1":0.8,"a2":0.9,"ac":0.6},
{"m":"ARMA","d":"2016-03-01","b2":0.6,"b1":0.55,"m0":0.55,"a1":0.55,"a2":0.55,"ac":0.52},
{"m":"ARMA","d":"2016-06-01","b2":0.55,"b1":0.4,"m0":0.4,"a1":0.4,"a2":0.4,"ac":0.34},
{"m":"ARMA","d":"2016-09-01","b2":0.55,"b1":0.5,"m0":0.5,"a1":0.5,"a2":0.5,"ac":0.6},
{"m":"ARMA","d":"2016-12-01","b2":0.6,"b1":0.6,"m0":0.6,"a1":0.6,"a2":0.6,"ac":0.5},
{"m":"ARMA","d":"2017-03-01","b2":0.6,"b1":0.55,"m0":0.55,"a1":0.55,"a2":0.55,"ac":0.5},
{"m":"ARMA","d":"2017-06-01","b2":0.6,"b1":0.6,"m0":0.6,"a1":0.6,"a2":0.6,"ac":0.55},
{"m":"ARMA","d":"2017-09-01","b2":0.65,"b1":0.65,"m0":0.65,"a1":0.65,"a2":0.65,"ac":0.74},
{"m":"ARMA","d":"2017-12-01","b2":0.7,"b1":0.75,"m0":0.75,"a1":0.75,"a2":0.75,"ac":0.96},
{"m":"ARMA","d":"2018-03-01","b2":0.8,"b1":0.85,"m0":0.85,"a1":0.85,"a2":0.85,"ac":0.83},
{"m":"ARMA","d":"2018-06-01","b2":0.8,"b1":0.8,"m0":0.8,"a1":0.8,"a2":0.8,"ac":0.92},
{"m":"ARMA","d":"2018-09-01","b2":0.8,"b1":0.8,"m0":0.8,"a1":0.8,"a2":0.8,"ac":0.6},
{"m":"ARMA","d":"2018-12-01","b2":0.7,"b1":0.6,"m0":0.6,"a1":0.6,"a2":0.6,"ac":0.2},
{"m":"ARMA","d":"2019-03-01","b2":0.55,"b1":0.4,"m0":0.4,"a1":0.4,"a2":0.4,"ac":0.5},
{"m":"ARMA","d":"2019-06-01","b2":0.6,"b1":0.55,"m0":0.55,"a1":0.55,"a2":0.55,"ac":0.77},
{"m":"ARMA","d":"2019-09-01","b2":0.65,"b1":0.7,"m0":0.7,"a1":0.7,"a2":0.7,"ac":0.68},
{"m":"ARMA","d":"2019-12-01","b2":0.65,"b1":0.65,"m0":0.65,"a1":0.65,"a2":0.65,"ac":0.5},
{"m":"ARMA","d":"2020-03-01","b2":0.6,"b1":0.55,"m0":0.55,"a1":0.55,"a2":0.55,"ac":-1.25},
{"m":"ARMA","d":"2020-06-01","b2":0.3,"b1":-1.2,"m0":-1.2,"a1":-1.2,"a2":-1.2,"ac":-8.95},
{"m":"ARMA","d":"2020-09-01","b2":-0.6,"b1":-3.7,"m0":-3.7,"a1":-3.7,"a2":-3.7,"ac":7.5},
{"m":"ARMA","d":"2020-12-01","b2":-2.3,"b1":-1.5,"m0":-1.5,"a1":-1.5,"a2":-1.5,"ac":1.1},
{"m":"ARMA","d":"2021-03-01","b2":2.3,"b1":2.4,"m0":2.4,"a1":2.4,"a2":2.4,"ac":1.5},
{"m":"ARMA","d":"2021-06-01","b2":0.6,"b1":0.6,"m0":0.6,"a1":0.6,"a2":0.6,"ac":1.65},
{"m":"ARMA","d":"2021-09-01","b2":0.7,"b1":0.8,"m0":0.8,"a1":0.8,"a2":0.8,"ac":0.6}
]},
"transform": [
  {"fold": ["b2","b1","m0","a1","a2","ac"], "as": ["k","v"]},
  {"lookup": "k", "from": {"data": {"values": [
    {"k":"b2","Vintage":"2 months before"},
    {"k":"b1","Vintage":"1 month before"},
    {"k":"m0","Vintage":"month of"},
    {"k":"a1","Vintage":"1 month after"},
    {"k":"a2","Vintage":"2 months after"},
    {"k":"ac","Vintage":"Actual"}
  ]}, "key": "k", "fields": ["Vintage"]}}
],
"facet": {"field": "m", "type": "nominal",
  "sort": ["LSTM","Bayesian VAR","OLS","MLP","MIDAS","DFM","MF-VAR","Ridge","Decision Tree","Gradient Boost","Random Forest","ARMA"],
  "header": {"title": "Date", "titleOrient": "bottom", "labels": false, "labelExpr": "''", "labelFontSize": 0, "labelPadding": 0,
             "titleFontSize": 22, "titleFontWeight": "normal", "titleColor": "#000000", "titlePadding": 7, "titleFont": "Liberation Sans"}},
"columns": 3,
"spacing": {"row": 9, "column": 8},
"spec": {
  "width": 332,
  "height": 322,
  "layer": [
    {"transform": [{"filter": "datum.k != 'ac'"}],
     "mark": {"type": "line", "strokeWidth": 1.6},
     "encoding": {
       "x": {"field": "d", "type": "temporal",
         "scale": {"type": "utc", "domain": [{"year":2015,"month":12,"date":6,"utc":true},{"year":2021,"month":11,"date":28,"utc":true}]},
         "axis": {"title": null,
           "values": [{"year":2016,"utc":true},{"year":2017,"utc":true},{"year":2018,"utc":true},{"year":2019,"utc":true},{"year":2020,"utc":true},{"year":2021,"utc":true}],
           "format": "%Y",
           "labelExpr": "utcyear(datum.value) % 2 == 0 ? datum.label : ''",
           "tickOpacity": {"condition": {"test": "utcyear(datum.value) % 2 == 1", "value": 0}, "value": 1},
           "gridWidth": {"condition": {"test": "utcyear(datum.value) % 2 == 1", "value": 1}, "value": 1.8}}},
       "y": {"field": "v", "type": "quantitative",
         "scale": {"domain": [-15.93, 14.0], "nice": false, "zero": false},
         "axis": {"title": null,
           "values": [-15,-12.5,-10,-7.5,-5,-2.5,0,2.5,5,7.5,10],
           "labelExpr": "datum.value % 5 == 0 ? (datum.value < 0 ? '-' : '') + format(abs(datum.value), '.1f') + '%' : ''",
           "tickOpacity": {"condition": {"test": "datum.value % 5 != 0", "value": 0}, "value": 1},
           "gridWidth": {"condition": {"test": "datum.value % 5 != 0", "value": 1}, "value": 1.8}}},
       "color": {"field": "Vintage", "type": "nominal",
         "scale": {"domain": ["2 months before","month of","2 months after","1 month before","1 month after","Actual"],
                   "range": ["#E5342F","#9ED12D","#3C3CE6","#D6A03D","#3AD6A8","#000000"]},
         "legend": {"title": "Vintage", "orient": "none", "legendX": 211, "legendY": 1414, "columns": 3, "direction": "horizontal"}},
       "strokeDash": {"field": "Vintage", "type": "nominal",
         "scale": {"domain": ["2 months before","month of","2 months after","1 month before","1 month after","Actual"],
                   "range": [[5,3,1.5,3],[6,3,2,3],[2,3,6,3],[7,3,2,3],[4,3,1.5,3],[1,0]]},
         "legend": {"title": "Vintage", "orient": "none", "legendX": 211, "legendY": 1414, "columns": 3, "direction": "horizontal"}}
     }},
    {"transform": [{"filter": "datum.k == 'ac'"}],
     "mark": {"type": "line", "strokeWidth": 1.6},
     "encoding": {
       "x": {"field": "d", "type": "temporal"},
       "y": {"field": "v", "type": "quantitative"},
       "color": {"field": "Vintage", "type": "nominal"},
       "strokeDash": {"field": "Vintage", "type": "nominal"}
     }},
    {"transform": [{"filter": "datum.k == 'ac'"}, {"aggregate": [{"op": "count", "as": "n"}], "groupby": ["m"]}],
     "mark": {"type": "rect", "fill": "#D9D9D9", "stroke": "#333333", "strokeWidth": 1.1},
     "encoding": {"y": {"datum": 10.84, "type": "quantitative"}, "y2": {"datum": 14.0}}},
    {"transform": [{"filter": "datum.k == 'ac'"}, {"aggregate": [{"op": "count", "as": "n"}], "groupby": ["m"]}],
     "mark": {"type": "text", "fontSize": 17, "color": "#1A1A1A", "baseline": "middle", "align": "center"},
     "encoding": {"y": {"datum": 12.42, "type": "quantitative"}, "text": {"field": "m"}}}
  ]
},
"config": {
  "font": "Liberation Sans",
  "view": {"stroke": "#333333", "strokeWidth": 1.1},
  "header": {"labels": false, "labelFontSize": 0, "labelPadding": 0},
  "headerFacet": {"labels": false, "labelFontSize": 0, "labelPadding": 0},
  "axis": {"gridColor": "#EBEBEB", "domain": false, "tickColor": "#333333", "tickSize": 5, "tickWidth": 1,
           "labelFontSize": 17, "labelColor": "#4D4D4D", "labelPadding": 4,
           "titleFontSize": 22, "titleFontWeight": "normal", "titleColor": "#000000"},
  "legend": {"symbolType": "stroke", "symbolSize": 900, "symbolStrokeWidth": 1.6,
             "labelFontSize": 17, "labelColor": "#000000", "titleFontSize": 22, "titleFontWeight": "normal",
             "titleOrient": "left", "titleAnchor": "middle", "titleBaseline": "middle", "titlePadding": 16, "columnPadding": 16, "rowPadding": 10, "labelOffset": 12}
}
}
